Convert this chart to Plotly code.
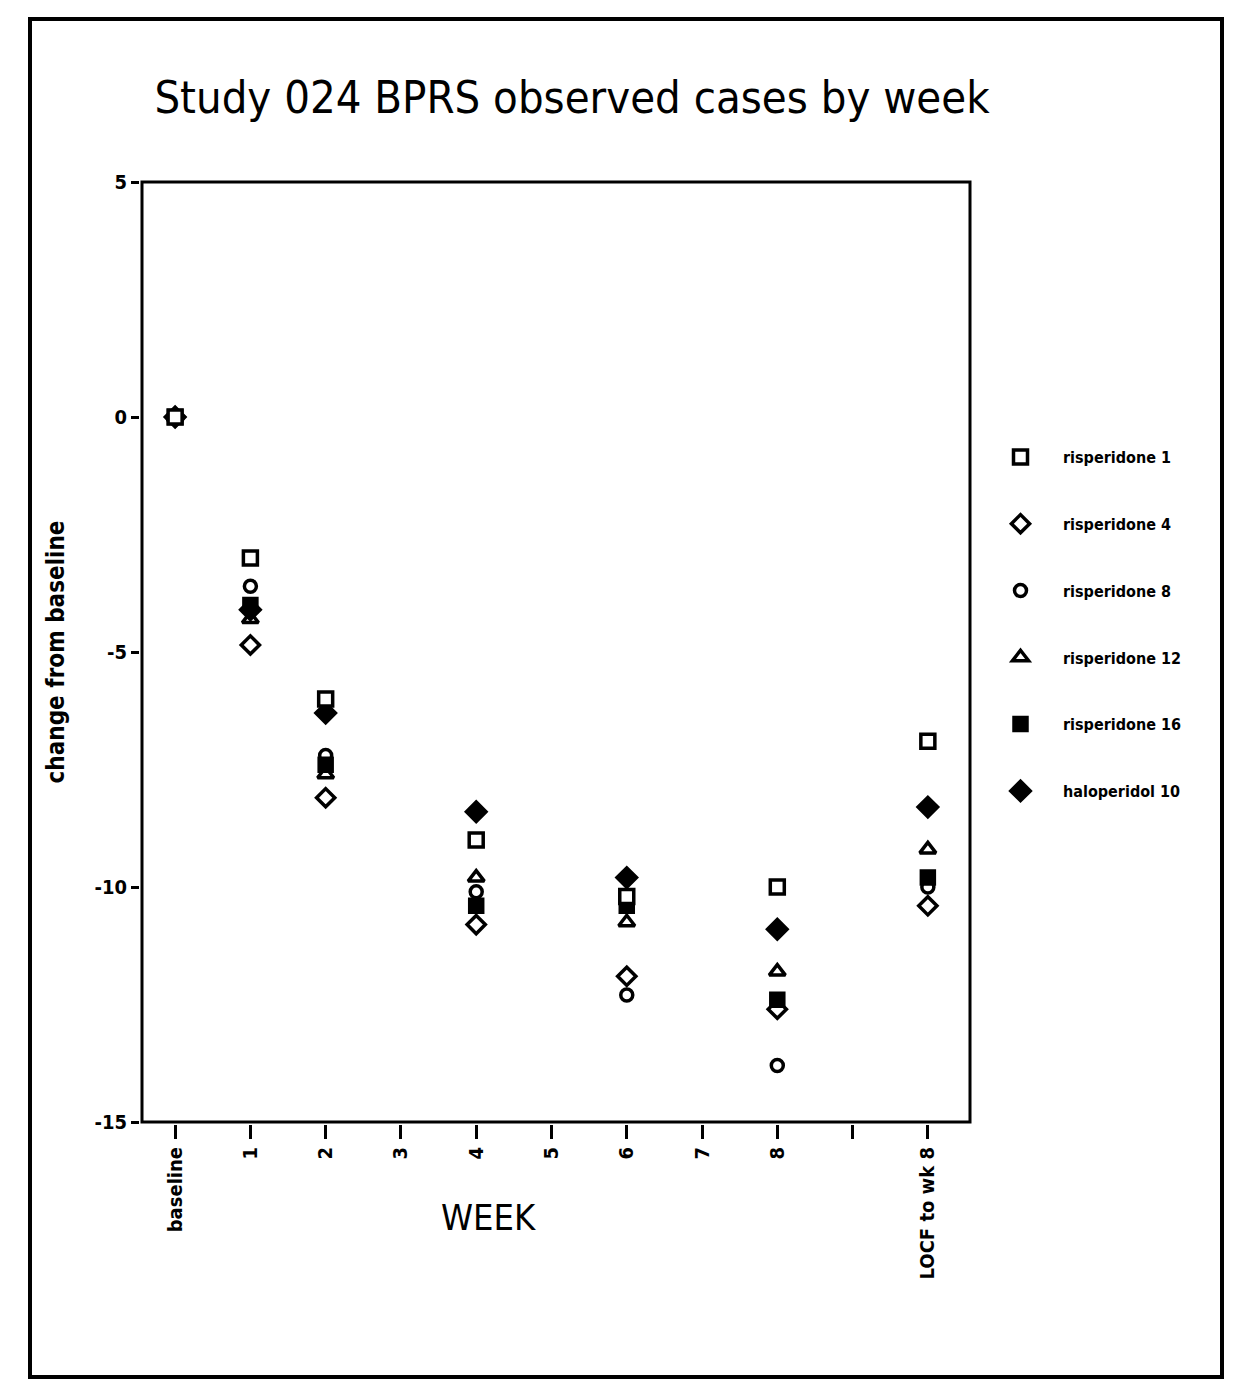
import plotly.graph_objects as go

# ---- data ----
tick_labels = ["baseline", "1", "2", "3", "4", "5", "6", "7", "8", "", "LOCF to wk 8"]
tick_pos = list(range(11))
x_pos = [0, 1, 2, 4, 6, 8, 10]  # baseline, wk1, wk2, wk4, wk6, wk8, LOCF

risperidone_1 = [0, -3.0, -6.0, -9.0, -10.2, -10.0, -6.9]
risperidone_4 = [0, -4.85, -8.1, -10.8, -11.9, -12.6, -10.4]
risperidone_8 = [0, -3.6, -7.2, -10.1, -12.3, -13.8, -10.0]
risperidone_12 = [0, -4.3, -7.6, -9.8, -10.75, -11.8, -9.2]
risperidone_16 = [0, -4.0, -7.4, -10.4, -10.4, -12.4, -9.8]
haloperidol_10 = [0, -4.1, -6.3, -8.4, -9.8, -10.9, -8.3]

# name, values, symbol, size, fill colour
series = [
    ("risperidone 1", risperidone_1, "square", 14, "white"),
    ("risperidone 4", risperidone_4, "diamond-open", 14, "black"),
    ("risperidone 8", risperidone_8, "circle-open", 12, "black"),
    ("risperidone 12", risperidone_12, "triangle-up-open", 14, "black"),
    ("risperidone 16", risperidone_16, "square", 13, "black"),
    ("haloperidol 10", haloperidol_10, "diamond", 15, "black"),
]

fig = go.Figure()
n = len(series)
for i, (name, vals, sym, sz, fill) in enumerate(series):
    fig.add_trace(go.Scatter(
        x=x_pos, y=vals, mode="markers", name=name, legendgroup=f"g{i}",
        zorder=n - i,  # risperidone 1 drawn on top
        marker=dict(symbol=sym, size=sz, color=fill,
                    line=dict(color="black", width=3.5)),
    ))

OFF = 8  # page body margin
W, H = 1259, 1400
L, R, T, B = 142 - OFF, 970 - OFF, 182 - OFF, 1122 - OFF
pw, ph = R - L, B - T

def px_x(p):
    return (p - OFF - L) / pw

def px_y(p):
    return (B - (p - OFF)) / ph

narrow = "Liberation Sans Narrow, DejaVu Sans Condensed, Arial Narrow, sans-serif"

fig.update_layout(
    width=W, height=H,
    margin=dict(l=L, r=W - R, t=T, b=H - B),
    paper_bgcolor="white", plot_bgcolor="rgba(0,0,0,0)",
    font=dict(family=narrow, color="black"),
    title=dict(text="Study 024 BPRS observed cases by week",
               xref="container", x=(572 - OFF) / W, xanchor="center",
               yref="container", y=1 - (97 - OFF) / H, yanchor="middle",
               font=dict(family=narrow, size=45, color="black")),
    xaxis=dict(range=[-0.44, 10.56], tickmode="array", tickvals=tick_pos,
               ticktext=tick_labels, tickangle=-90, showgrid=False, zeroline=False,
               showline=True, linecolor="black", linewidth=3, mirror=True,
               ticks="outside", ticklen=14, tickwidth=3, tickcolor="black",
               tickfont=dict(family=narrow, size=20, weight="bold")),
    yaxis=dict(range=[-15, 5], tickvals=[5, 0, -5, -10, -15],
               ticktext=["5", "0", "-5", "-10", "-15"], showgrid=False, zeroline=False,
               showline=True, linecolor="black", linewidth=3, mirror=True,
               ticks="outside", ticklen=8, tickwidth=3, tickcolor="black",
               tickfont=dict(family=narrow, size=20, weight="bold"),
               title=dict(text="change from baseline", standoff=24,
                          font=dict(family=narrow, size=24, weight="bold"))),
    legend=dict(x=px_x(978), xanchor="left", y=px_y(440), yanchor="top",
                traceorder="grouped",
                font=dict(family=narrow, size=16, weight="bold"),
                tracegroupgap=43, itemwidth=75, bgcolor="rgba(0,0,0,0)"),
    showlegend=True,
)

fig.add_annotation(text="WEEK", x=px_x(488), y=px_y(1240), xref="paper", yref="paper",
                   showarrow=False, font=dict(family=narrow, size=36, color="black"))

# page frame
fig.add_shape(type="rect", xref="paper", yref="paper",
              x0=px_x(30), x1=px_x(1222), y0=px_y(1377), y1=px_y(19),
              line=dict(color="black", width=4))
# plot box outline
fig.add_shape(type="rect", xref="paper", yref="paper", x0=0, x1=1, y0=0, y1=1,
              line=dict(color="black", width=3), layer="above")

fig.write_html("out.html")
